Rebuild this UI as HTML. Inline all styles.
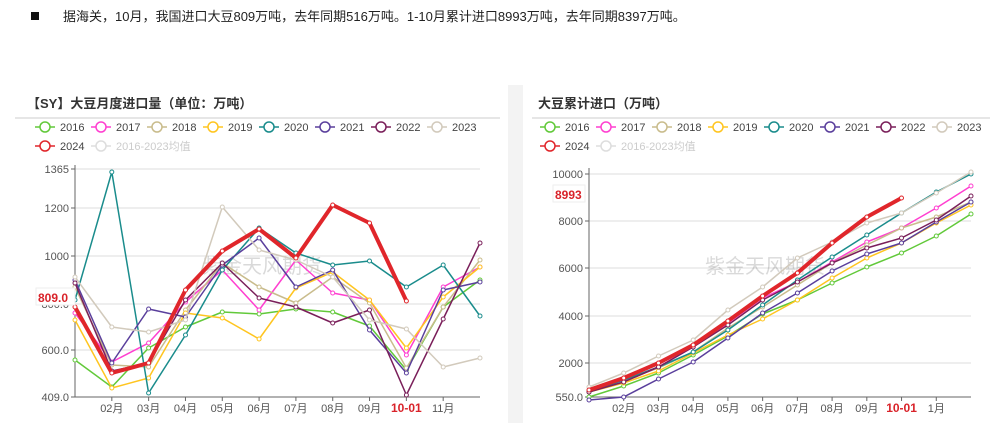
<!DOCTYPE html>
<html><head><meta charset="utf-8"><style>
body{margin:0;background:#fff;width:1000px;height:429px;overflow:hidden;font-family:"Liberation Sans","Noto Sans CJK SC",sans-serif}
svg text{font-family:"Liberation Sans","Noto Sans CJK SC",sans-serif}
</style></head><body>
<svg id="s" width="1000" height="429" xmlns="http://www.w3.org/2000/svg">
<rect width="1000" height="429" fill="#fff"/>
<rect x="31" y="12" width="8" height="8" fill="#111"/>
<text x="63" y="21" font-size="13" fill="#222">据海关，10月，我国进口大豆809万吨，去年同期516万吨。1-10月累计进口8993万吨，去年同期8397万吨。</text>
<text x="27" y="108" font-size="13" font-weight="bold" fill="#333" font-family="Noto Serif CJK SC,serif">【SY】大豆月度进口量（单位：万吨）</text>
<line x1="15" y1="118" x2="500" y2="118" stroke="#ccc"/>
<text x="538" y="108" font-size="13" font-weight="bold" fill="#333" font-family="Noto Serif CJK SC,serif">大豆累计进口（万吨）</text>
<line x1="532" y1="118" x2="990" y2="118" stroke="#ccc"/>
<rect x="508" y="85" width="15" height="338" fill="#f3f3f3"/>
<g id="g"></g>
</svg>
<script>
const C={'2016':'#62c93a','2017':'#ff3fd0','2018':'#c9bc8c','2019':'#ffc520','2020':'#1a8c8c','2021':'#5a3f9c','2022':'#7a1f5a','2023':'#d2cabc','2024':'#e0262b'};
const L={
'2023':[277,327,332,320,207,250,260,277,320,329,367,358],
'2018':[287,365,367,310,263,287,303,277,303,368,307,260],
'2016':[360,387,348,327,312,314,309,312,326,370,307,280],
'2019':[320,388,378,313,318,339,288,272,300,348,297,267],
'2017':[313,362,343,302,270,310,260,293,300,355,287,267],
'2021':[280,363,309,317,265,238,287,270,330,373,290,282],
'2022':[283,371,363,300,263,298,307,323,310,395,319,243],
'2020':[300,172,393,335,270,228,253,265,261,287,265,316],
'2024':[307,373,363,290,251,229,258,205,223,301]};
const R={
'2023':[387,373,356,340,310,287,258,242,223,213,193,172],
'2016':[397,386,373,355,336,314,300,283,267,253,236,214],
'2019':[392,383,371,353,335,319,300,278,258,243,223,205],
'2018':[390,380,368,352,328,307,285,263,245,228,217,202],
'2021':[400,397,379,362,338,313,293,271,254,243,222,202],
'2022':[392,382,367,347,325,300,282,263,248,238,220,196],
'2017':[392,380,367,347,323,298,282,262,242,228,208,186],
'2020':[392,380,367,352,330,305,280,257,235,213,192,174],
'2024':[390,378,363,345,321,296,273,243,217,198]};
let h='';
function legend(x0){const ys=[127,146];const names=['2016','2017','2018','2019','2020','2021','2022','2023','2024','avg'];
names.forEach((n,i)=>{const r=i<8?0:1;const c=i<8?i:i-8;const x=x0+c*56;const y=ys[r];const col=n=='avg'?'#ddd':C[n];
h+=`<line x1="${x}" y1="${y}" x2="${x+20}" y2="${y}" stroke="${col}" stroke-width="1.5"/><circle cx="${x+10}" cy="${y}" r="5" fill="#fff" stroke="${col}" stroke-width="1.5"/>`;
h+=`<text x="${x+25}" y="${y+4}" font-size="11" fill="${n=='avg'?'#ccc':'#444'}">${n=='avg'?'2016-2023均值':n}</text>`;});}
legend(35);legend(540);
function chart(x0,x1,ticks,data,labels,ytop,ybot,tag,tagy,wm){
ticks.forEach(t=>{h+=`<line x1="${x0}" y1="${t[1]}" x2="${x1}" y2="${t[1]}" stroke="#ddd"/><line x1="${x0-4}" y1="${t[1]}" x2="${x0}" y2="${t[1]}" stroke="#666"/><text x="${x0-6}" y="${t[1]+4}" font-size="11" fill="#555" text-anchor="end">${t[0]}</text>`;});
h+=`<line x1="${x0}" y1="${ytop}" x2="${x0}" y2="${ybot}" stroke="#666"/><line x1="${x0}" y1="${ybot}" x2="${x1}" y2="${ybot}" stroke="#666"/>`;
const dx=(x1-x0)/11;
labels.forEach((l,i)=>{const x=x0+dx*(i+1);h+=`<line x1="${x}" y1="${ybot}" x2="${x}" y2="${ybot+4}" stroke="#666"/>`;
h+=`<text x="${x}" y="${ybot+15}" font-size="${l=='10-01'?12:11}" font-weight="${l=='10-01'?'bold':'normal'}" fill="${l=='10-01'?'#d9232a':'#555'}" text-anchor="middle">${l}</text>`;});
h+=`<text x="${wm}" y="273" font-size="20" fill="#000" fill-opacity="0.15">紫金天风期货</text>`;
for(const k in data){const p=data[k].map((y,i)=>`${(x0+dx*i).toFixed(1)},${y}`);const w=k=='2024'?4:1.5;
h+=`<polyline points="${p.join(' ')}" fill="none" stroke="${C[k]}" stroke-width="${w}" stroke-linejoin="round"/>`;
p.forEach(q=>{const [x,y]=q.split(',');h+=`<circle cx="${x}" cy="${y}" r="2" fill="#fff" stroke="${C[k]}" stroke-width="1"/>`;});}
h+=`<rect x="${tag[0]}" y="${tagy-9}" width="${tag[1]}" height="17" fill="#fff" stroke="#eee"/><text x="${tag[0]+2}" y="${tagy+5}" font-size="12" font-weight="bold" fill="#d9232a">${tag[2]}</text>`;
}
chart(75,480,[['1365',169],['1200',208],['1000',256],['800.0',304],['600.0',350],['409.0',397]],L,['02月','03月','04月','05月','06月','07月','08月','09月','10-01','11月'],165,397,[36,39,'809.0'],297,202);
chart(589,971,[['10000',174],['8000',221],['6000',268],['4000',316],['2000',363],['550.0',397]],R,['02月','03月','04月','05月','06月','07月','08月','09月','10-01','1月'],168,397,[553,32,'8993'],194,705);
document.getElementById('g').innerHTML=h;
</script>
</body></html>
